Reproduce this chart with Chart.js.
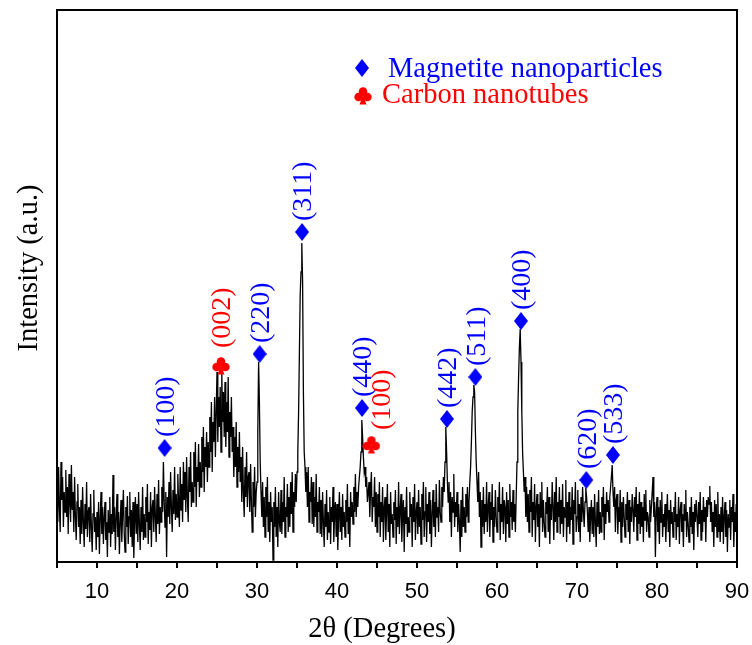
<!DOCTYPE html>
<html>
<head>
<meta charset="utf-8">
<script src="https://cdn.jsdelivr.net/npm/chart.js@4/dist/chart.umd.min.js"></script>
<style>
html, body { margin: 0; background: #fff; }
canvas { display: block; }
</style>
</head>
<body>
<canvas id="xrd" width="752" height="645"></canvas>
<script>
// ── Pattern data (2θ grid 5°..90°, 0.1° step; intensity in a.u.) ─────────────
const ANGLE_START = 5;
const ANGLE_STEP  = 0.1;
const intensity = [
    80, 40, 95, 55, 30, 100, 62, 85, 35, 70,
    50, 92, 45, 75, 28, 88, 60, 40, 97, 52,
    70, 30, 85, 45, 22, 60, 78, 35, 55, 18,
    62, 28, 75, 40, 15, 58, 33, 80, 25, 50,
    55, 20, 68, 35, 10, 48, 72, 30, 45, 12,
    50, 25, 60, 8, 42, 70, 28, 55, 18, 45,
    60, 22, 40, 5, 52, 30, 65, 15, 48, 28,
    87, 30, 55, 12, 45, 68, 25, 50, 8, 40,
    62, 20, 48, 72, 30, 10, 55, 35, 66, 18,
    45, 70, 25, 52, 15, 60, 4, 40, 65, 28,
    58, 20, 70, 38, 12, 55, 30, 75, 22, 48,
    25, 65, 40, 78, 18, 50, 32, 70, 15, 55,
    62, 30, 75, 45, 20, 68, 38, 82, 28, 55,
    40, 75, 50, 100, 60, 35, 70, 5, 65, 45,
    80, 38, 90, 55, 30, 72, 48, 95, 42, 68,
    45, 88, 60, 35, 95, 52, 78, 40, 100, 62,
    90, 50, 105, 65, 40, 95, 70, 110, 55, 80,
    60, 110, 75, 120, 55, 95, 80, 118, 65, 100,
    75, 125, 90, 135, 70, 115, 95, 130, 80, 120,
    95, 145, 110, 160, 90, 140, 120, 165, 105, 150,
    190, 120, 165, 135, 175, 110, 190, 140, 170, 125,
    180, 115, 160, 130, 185, 105, 150, 125, 165, 110,
    135, 85, 125, 95, 140, 75, 115, 90, 130, 80,
    105, 60, 115, 70, 45, 95, 65, 110, 55, 85,
    90, 50, 98, 60, 30, 80, 55, 95, 45, 70,
    80, 130, 200, 160, 100, 70, 45, 80, 35, 65,
    25, 75, 45, 85, 30, 60, 20, 70, 40, 55,
    2, 60, 35, 75, 25, 55, 15, 70, 40, 30,
    72, 28, 60, 40, 85, 25, 55, 45, 78, 30,
    65, 35, 80, 48, 90, 30, 70, 55, 88, 60,
    90, 110, 150, 210, 267, 290, 319, 280, 170, 110,
    95, 70, 90, 55, 95, 40, 70, 60, 85, 38,
    80, 35, 65, 45, 88, 30, 60, 50, 75, 28,
    62, 25, 70, 40, 15, 58, 35, 72, 22, 50,
    30, 65, 18, 55, 40, 75, 20, 48, 60, 25,
    58, 12, 45, 70, 30, 55, 22, 68, 35, 50,
    25, 62, 40, 78, 28, 55, 15, 70, 45, 60,
    38, 75, 50, 88, 45, 70, 55, 75, 85, 95,
    110, 142, 125, 105, 90, 95, 75, 85, 60, 70,
    80, 45, 72, 90, 40, 65, 55, 85, 35, 70,
    30, 68, 45, 80, 25, 60, 40, 75, 20, 55,
    65, 22, 50, 78, 30, 58, 15, 70, 38, 48,
    25, 60, 42, 72, 18, 55, 35, 80, 28, 52,
    68, 20, 48, 62, 10, 55, 38, 75, 25, 45,
    30, 70, 45, 58, 15, 65, 40, 78, 22, 50,
    60, 28, 72, 35, 55, 18, 68, 42, 80, 25,
    50, 75, 20, 58, 40, 70, 28, 62, 15, 48,
    72, 35, 60, 25, 78, 45, 55, 30, 82, 50,
    40, 75, 55, 85, 70, 100, 135, 110, 80, 60,
    80, 40, 70, 25, 65, 50, 88, 35, 60, 45,
    70, 30, 58, 40, 10, 62, 25, 75, 35, 55,
    30, 68, 45, 75, 40, 60, 80, 95, 120, 150,
    165, 177, 170, 130, 100, 80, 60, 90, 45, 70,
    15, 62, 35, 75, 28, 58, 40, 80, 30, 55,
    70, 25, 60, 42, 78, 20, 55, 35, 72, 45,
    30, 65, 50, 80, 22, 58, 40, 75, 28, 62,
    55, 20, 70, 38, 62, 25, 78, 45, 60, 32,
    72, 40, 58, 30, 65, 100, 150, 185, 215, 233,
    200, 150, 110, 90, 70, 85, 45, 75, 40, 68,
    30, 72, 50, 85, 25, 60, 42, 78, 20, 55,
    68, 35, 58, 15, 70, 45, 80, 30, 62, 40,
    25, 60, 48, 75, 30, 65, 18, 58, 42, 80,
    55, 22, 70, 40, 85, 30, 60, 45, 75, 28,
    62, 38, 78, 25, 55, 45, 82, 20, 60, 35,
    70, 28, 55, 42, 75, 18, 62, 48, 80, 30,
    45, 72, 30, 58, 20, 65, 40, 75, 50, 35,
    60, 74, 65, 50, 30, 55, 20, 45, 62, 28,
    55, 25, 68, 40, 15, 60, 35, 72, 28, 50,
    30, 65, 45, 75, 22, 58, 38, 70, 50, 62,
    40, 65, 75, 85, 97, 70, 55, 75, 30, 62,
    68, 28, 55, 40, 72, 20, 60, 35, 65, 45,
    25, 58, 42, 70, 30, 62, 18, 55, 40, 68,
    52, 30, 65, 45, 75, 22, 58, 38, 70, 28,
    60, 35, 55, 20, 68, 42, 72, 30, 50, 45,
    25, 62, 40, 55, 70, 85, 45, 60, 5, 50,
    65, 30, 55, 18, 62, 40, 70, 25, 48, 35,
    58, 20, 45, 68, 30, 52, 15, 62, 38, 50,
    25, 55, 40, 70, 22, 48, 35, 65, 18, 52,
    60, 30, 48, 15, 58, 42, 72, 25, 50, 38,
    20, 55, 35, 65, 28, 50, 12, 58, 40, 62,
    45, 25, 60, 38, 70, 22, 52, 30, 65, 40,
    55, 20, 62, 45, 65, 58, 76, 40, 60, 30,
    50, 15, 62, 35, 58, 25, 70, 30, 48, 20,
    55, 30, 65, 18, 45, 60, 25, 52, 10, 48,
    35, 62, 22, 55, 40, 68, 15, 50, 30, 58,
    45
];

// ── Peak markers ──────────────────────────────────────────────────────────────
const magnetiteAngle = [18.45, 30.33, 35.63, 43.13, 53.75, 57.29, 63.0, 71.16, 74.5];
const magnetiteMark  = [114, 208, 330, 154, 143, 185, 241, 82, 107];
const magnetiteHkl   = ['(100)', '(220)', '(311)', '(440)', '(442)', '(511)', '(400)', '(620)', '(533)'];

const carbonAngle = [25.5, 44.3];
const carbonMark  = [196, 117];
const carbonHkl   = ['(002)', '(100)'];

const xTicks = [10, 20, 30, 40, 50, 60, 70, 80, 90];

// ── Styles ────────────────────────────────────────────────────────────────────
const BLUE  = '#0000ff';
const RED   = '#ff0000';
const SERIF = "'Liberation Serif', 'Times New Roman', serif";
const SANS  = "'Liberation Sans', Arial, sans-serif";

// diamond / club symbols as small canvases (used as point styles)
function makeDiamond() {
    const c = document.createElement('canvas');
    c.width = 14; c.height = 18;
    const g = c.getContext('2d');
    g.fillStyle = BLUE;
    g.beginPath();
    g.moveTo(7, 0); g.lineTo(14, 9); g.lineTo(7, 18); g.lineTo(0, 9);
    g.closePath(); g.fill();
    return c;
}
function makeClub() {
    const c = document.createElement('canvas');
    c.width = 18; c.height = 18;
    const g = c.getContext('2d');
    g.fillStyle = RED;
    [[9, 4.6], [4.6, 10], [13.4, 10]].forEach(([cx, cy]) => {
        g.beginPath(); g.arc(cx, cy, 4.3, 0, Math.PI * 2); g.fill();
    });
    g.beginPath();
    g.moveTo(9, 8); g.lineTo(5.5, 17.5); g.lineTo(12.5, 17.5);
    g.closePath(); g.fill();
    return c;
}
const DIAMOND = makeDiamond();
const CLUB    = makeClub();

// ── Labels, legend, frame, axis titles ────────────────────────────────────────
const annotate = {
    id: 'annotate',
    afterDraw(chart) {
        const { ctx, chartArea: a, scales: { x, y } } = chart;
        ctx.save();

        // top + right frame
        ctx.strokeStyle = '#000';
        ctx.lineWidth = 2;
        ctx.beginPath();
        ctx.moveTo(a.left, a.top);
        ctx.lineTo(a.right, a.top);
        ctx.lineTo(a.right, a.bottom);
        ctx.stroke();

        // vertical hkl labels
        const vText = (text, px, py, color) => {
            ctx.save();
            ctx.translate(px, py);
            ctx.rotate(-Math.PI / 2);
            ctx.fillStyle = color;
            ctx.font = `28px ${SERIF}`;
            ctx.textAlign = 'left';
            ctx.textBaseline = 'middle';
            ctx.fillText(text, 0, 0);
            ctx.restore();
        };
        magnetiteHkl.forEach((t, i) =>
            vText(t, x.getPixelForValue(magnetiteAngle[i]) + 2, y.getPixelForValue(magnetiteMark[i]) - 11, BLUE));
        const carbonDx = [2, 11], carbonDy = [18, 15];
        carbonHkl.forEach((t, i) =>
            vText(t, x.getPixelForValue(carbonAngle[i]) + carbonDx[i], y.getPixelForValue(carbonMark[i]) - carbonDy[i], RED));

        // legend
        ctx.drawImage(DIAMOND, 362 - 7, 68 - 9);
        ctx.drawImage(CLUB, 363 - 9, 96 - 9);
        ctx.font = `28.5px ${SERIF}`;
        ctx.textAlign = 'left';
        ctx.textBaseline = 'alphabetic';
        ctx.fillStyle = BLUE;
        ctx.fillText('Magnetite nanoparticles', 388, 77);
        ctx.fillStyle = RED;
        ctx.fillText('Carbon nanotubes', 382, 103);

        // axis titles
        ctx.fillStyle = '#000';
        ctx.font = `28.5px ${SERIF}`;
        ctx.textAlign = 'center';
        ctx.fillText('2θ (Degrees)', 382, 637);
        ctx.save();
        ctx.translate(37, 268);
        ctx.rotate(-Math.PI / 2);
        ctx.fillText('Intensity (a.u.)', 0, 0);
        ctx.restore();

        ctx.restore();
    }
};

// ── Chart ─────────────────────────────────────────────────────────────────────
new Chart(document.getElementById('xrd'), {
    type: 'line',
    data: {
        datasets: [
            {
                type: 'scatter',
                data: magnetiteAngle.map((a, i) => ({ x: a, y: magnetiteMark[i] })),
                pointStyle: DIAMOND,
                pointRadius: 8
            },
            {
                type: 'scatter',
                data: carbonAngle.map((a, i) => ({ x: a, y: carbonMark[i] })),
                pointStyle: CLUB,
                pointRadius: 9
            },
            {
                data: intensity.map((v, i) => ({ x: ANGLE_START + i * ANGLE_STEP, y: v })),
                borderColor: '#000',
                borderWidth: 1.3,
                pointRadius: 0,
                tension: 0,
                fill: false
            }
        ]
    },
    options: {
        responsive: false,
        animation: false,
        events: [],
        layout: { padding: { top: 10, right: 15, left: 0, bottom: 0 } },
        plugins: { legend: { display: false }, tooltip: { enabled: false } },
        scales: {
            x: {
                type: 'linear',
                min: 5,
                max: 90,
                afterFit: s => { s.height = 83; s.paddingLeft = 0; s.paddingRight = 0; },
                ticks: {
                    stepSize: 5,
                    autoSkip: false,
                    maxRotation: 0,
                    padding: 11,
                    color: '#000',
                    font: { family: SANS, size: 22 },
                    callback: v => xTicks.includes(v) ? String(v) : ''
                },
                grid: { drawOnChartArea: false, tickLength: 6, color: '#000', lineWidth: 2 },
                border: { color: '#000', width: 2 }
            },
            y: {
                min: 0,
                max: 552,
                afterFit: s => { s.width = 57; },
                ticks: { display: false },
                grid: { display: false },
                border: { color: '#000', width: 2 }
            }
        }
    },
    plugins: [annotate]
});
</script>
</body>
</html>
